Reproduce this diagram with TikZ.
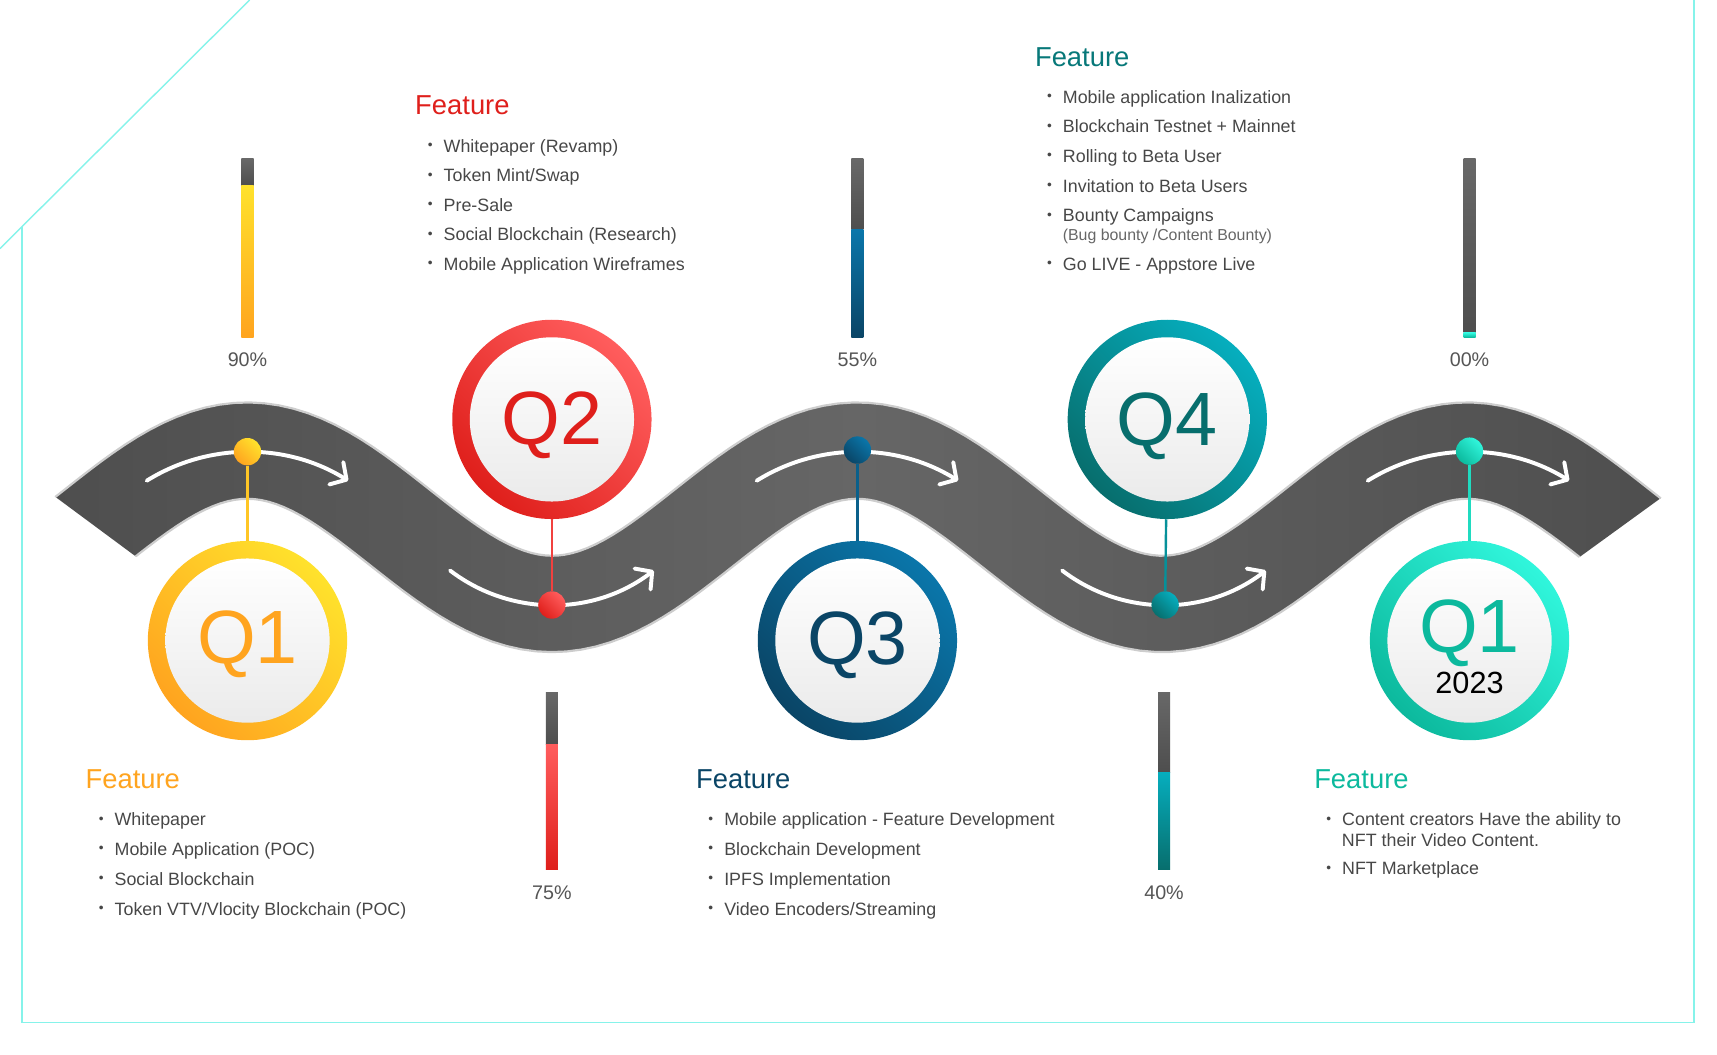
\documentclass[tikz,border=0pt]{standalone}
\usepackage{fontspec}
\setmainfont{Liberation Sans}
\usetikzlibrary{arrows.meta}

\definecolor{cian}{HTML}{86F3EA}
\definecolor{textogris}{HTML}{474747}
\definecolor{pctgris}{HTML}{555555}
\definecolor{caminoa}{HTML}{4C4C4C}
\definecolor{caminob}{HTML}{666666}
\definecolor{borde}{HTML}{CDCDCD}
\definecolor{grisa}{HTML}{686868}
\definecolor{grisb}{HTML}{4E4E4E}
\definecolor{q1a}{HTML}{FFA41F}
\definecolor{q1b}{HTML}{FFE22C}
\definecolor{q2a}{HTML}{DF1F1B}
\definecolor{q2b}{HTML}{FF5D5D}
\definecolor{q3a}{HTML}{0A4566}
\definecolor{q3b}{HTML}{0A76AA}
\definecolor{q4a}{HTML}{076E6D}
\definecolor{q4b}{HTML}{06AEBE}
\definecolor{q5a}{HTML}{0CB99D}
\definecolor{q5b}{HTML}{30F6DC}

\newcommand{\bul}{\makebox[14.5pt][l]{\raisebox{2.4pt}{\fontsize{12.5}{12}\selectfont\textbullet}}}

\tikzset{
  marco/.style={draw=cian, line width=1.3pt},
  aro/.style={circle, inner sep=0pt, minimum size=182pt, top color=#1b, bottom color=#1a, shading angle=-45},
  disco/.style={circle, inner sep=0pt, minimum size=150pt, top color=white, bottom color=black!8},
  bola/.style={circle, inner sep=0pt, minimum size=25pt, top color=#1b, bottom color=#1a, shading angle=-45},
  enlace/.style={line width=2.2pt},
  flecha/.style={white, line width=3.6pt, line cap=round, -{Straight Barb[length=11pt,width=24pt,round]}},
  etiq/.style={anchor=base, inner sep=0pt, font=\fontsize{69}{69}\selectfont},
  titulo/.style={anchor=base west, inner sep=0pt, font=\fontsize{25}{30}\selectfont},
  punto/.style={anchor=base west, inner sep=0pt, text=textogris, font=\fontsize{16.3}{20}\selectfont},
  pct/.style={anchor=base, inner sep=0pt, text=pctgris, font=\fontsize{18}{20}\selectfont},
}

\begin{document}
\begin{tikzpicture}[x=1pt, y=-1pt,
    declare function={ry(\t)=481.5-70*sin((\t-86.5)/557*360);
                      rs(\t)=-0.7896*cos((\t-86.5)/557*360);
                      rl(\t)=44/sqrt(1+rs(\t)*rs(\t));}]
  \useasboundingbox (0,0) rectangle (1568,963);

  % Marco
  \draw[marco] (228,0) -- (0,227);
  \draw[marco] (20,207) -- (20,934) -- (1547,934) -- (1547,0);

  % Camino
  \begin{scope}
    \clip (-157,300) -- (329,660) -- (1234,660) -- (1730,300) -- cycle;
    \shadedraw[draw=borde, line width=2pt, left color=caminoa, right color=caminoa, middle color=caminob]
      plot[domain=0:1570, samples=160, variable=\t] ({\t+rs(\t)*rl(\t)}, {ry(\t)-rl(\t)})
      -- plot[domain=1570:0, samples=160, variable=\t] ({\t-rs(\t)*rl(\t)}, {ry(\t)+rl(\t)}) -- cycle;
  \end{scope}

  % Flechas
  \foreach \x in {226,783,1341}
    \draw[flecha] (\x-92,439) .. controls (\x-36,404) and (\x+36,404) .. (\x+92,439);
  \foreach \x in {504,1063}
    \draw[flecha] (\x-93,521) .. controls (\x-38,563) and (\x+38,563) .. (\x+93,521);

  % Barras de avance
  \foreach \x/\ya/\yb/\yc/\c in {226/145/169/308/q1, 783/145/210/308/q3, 1342/145/304/308/q5,
                                 504/632/680/794/q2, 1063/632/705/794/q4} {
    \shade[top color=grisa, bottom color=grisb] (\x-5.5,\ya) rectangle (\x+5.5,\yb);
    \shade[top color=\c b, bottom color=\c a] (\x-5.5,\yb) rectangle (\x+5.5,\yc);
  }
  \foreach \x/\y/\t/\n in {226/335/90/1, 504/821/75/2, 783/335/55/3, 1063/821/40/4, 1342/335/00/5}
    \node[pct] (pct\n) at (\x,\y) {\t\%};

  % Circulos
  \foreach \x/\y/\n in {226/585/1, 504/383/2, 783/585/3, 1066/383/4, 1342/585/5} {
    \node[aro=q\n] (aro\n) at (\x,\y) {};
    \node[disco] (disco\n) at (aro\n) {};
  }

  % Puntos y enlaces
  \foreach \x/\y/\n in {226/412.5/1, 504/552.5/2, 783/411/3, 1064/552.5/4, 1342/412/5}
    \node[bola=q\n] (bola\n) at (\x,\y) {};
  \foreach \n in {1,...,5}
    \draw[enlace, q\n a!45!q\n b] (bola\n) -- (aro\n);

  % Etiquetas
  \node[etiq, text=q1a] (lab1) at (226,606) {Q1};
  \node[etiq, text=q2a] (lab2) at (504,406) {Q2};
  \node[etiq, text=q3a] (lab3) at (783,607) {Q3};
  \node[etiq, text=q4a] (lab4) at (1066,407) {Q4};
  \node[etiq, text=q5a] (lab5) at (1342,596) {Q1};
  \node[etiq, font=\fontsize{28}{28}\selectfont] (anio) at (1342,633) {2023};

  % Lista Q1
  \node[titulo, text=q1a] (tit1) at (78,720) {Feature};
  \foreach \t [count=\i] in {{Whitepaper}, {Mobile Application (POC)}, {Social Blockchain},
                             {Token VTV/Vlocity Blockchain (POC)}}
    \node[punto] (it1-\i) at (90,{726.8+27.2*\i}) {\bul\t};

  % Lista Q2
  \node[titulo, text=q2a] (tit2) at (379,104.4) {Feature};
  \foreach \t [count=\i] in {{Whitepaper (Revamp)}, {Token Mint/Swap}, {Pre-Sale},
                             {Social Blockchain (Research)}, {Mobile Application Wireframes}}
    \node[punto] (it2-\i) at (390.5,{112+27*\i}) {\bul\t};

  % Lista Q3
  \node[titulo, text=q3a] (tit3) at (635.5,720) {Feature};
  \foreach \t [count=\i] in {{Mobile application - Feature Development}, {Blockchain Development},
                             {IPFS Implementation}, {Video Encoders/Streaming}}
    \node[punto] (it3-\i) at (646.7,{726.8+27.2*\i}) {\bul\t};

  % Lista Q4
  \node[titulo, text=q4a!85!q4b] (tit4) at (945,60.3) {Feature};
  \foreach \t [count=\i] in {{Mobile application Inalization}, {Blockchain Testnet + Mainnet},
                             {Rolling to Beta User}, {Invitation to Beta Users}, {Bounty Campaigns}}
    \node[punto] (it4-\i) at (956,{67.4+27*\i}) {\bul\t};
  \node[punto, text=pctgris!90!white, font=\fontsize{14.5}{16}\selectfont] (it4-sub) at (970.4,219.8)
    {(Bug bounty /Content Bounty)};
  \node[punto] (it4-6) at (956,246.6) {\bul Go LIVE - Appstore Live};

  % Lista Q1 2023
  \node[titulo, text=q5a] (tit5) at (1200,720) {Feature};
  \node[punto] (it5-1) at (1211,754) {\bul Content creators Have the ability to};
  \node[punto] (it5-1b) at (1225.3,772.6) {NFT their Video Content.};
  \node[punto] (it5-2) at (1211,799) {\bul NFT Marketplace};
\end{tikzpicture}
\end{document}
